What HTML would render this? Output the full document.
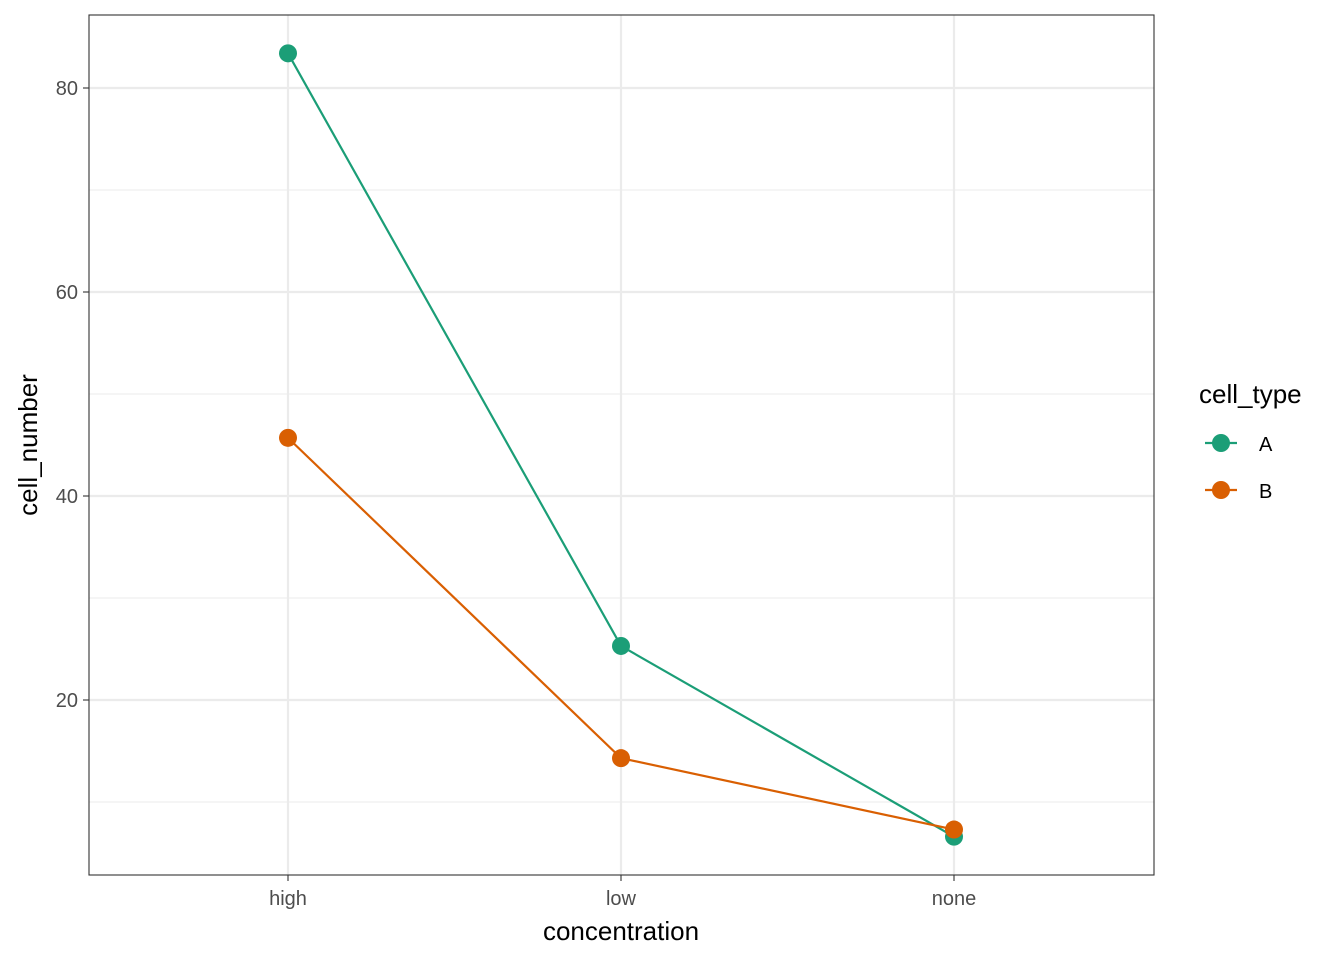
<!DOCTYPE html>
<html><head><meta charset="utf-8"><style>
body{margin:0;background:#fff}
svg{display:block;font-family:"Liberation Sans",Arial,sans-serif}
</style></head><body>
<svg id="chart" width="1344" height="960">
<rect x="0" y="0" width="1344" height="960" fill="#fff"/>
<g id="grid"></g>
<g id="series"></g>
<rect x="89" y="15" width="1065" height="860" fill="none" stroke="#333" stroke-width="1.1"/>
<g id="axes"></g>
<text x="621" y="940" text-anchor="middle" font-size="26" fill="#000">concentration</text>
<text transform="translate(37,445) rotate(-90)" text-anchor="middle" font-size="26" fill="#000">cell_number</text>
<g id="legend">
<text x="1199" y="403" font-size="26" fill="#000">cell_type</text>
</g>
</svg>
<script>
const categories=["high","low","none"];
const seriesNames=["A","B"];
const valuesA=[83.4,25.3,6.6];
const valuesB=[45.7,14.3,7.3];
const yTicks=[20,40,60,80];
const yMinor=[10,30,50,70];
const colors=["#1b9e77","#d95f02"];
const NS="http://www.w3.org/2000/svg";
function xs(i){return 288+i*333;}
function ys(v){return 700-(v-20)*10.2;}
function mk(t,a,p){const e=document.createElementNS(NS,t);for(const k in a)e.setAttribute(k,a[k]);p.appendChild(e);return e;}
const grid=document.getElementById('grid'),axes=document.getElementById('axes'),ser=document.getElementById('series'),leg=document.getElementById('legend');
yMinor.forEach(v=>{const l=mk('line',{x1:89,x2:1154,y1:ys(v),y2:ys(v),stroke:'#ebebeb','stroke-width':1.1},grid);

});
yTicks.forEach(v=>{const l=mk('line',{x1:89,x2:1154,y1:ys(v),y2:ys(v),stroke:'#ebebeb','stroke-width':2.2},grid);


const tk=mk('line',{x1:83,x2:89,y1:ys(v),y2:ys(v),stroke:'#333','stroke-width':1.1},axes);


const t=mk('text',{x:78,y:ys(v)+7,'text-anchor':'end','font-size':20,fill:'#4d4d4d'},axes);t.textContent=v;

});
categories.forEach((c,i)=>{const l=mk('line',{x1:xs(i),x2:xs(i),y1:15,y2:875,stroke:'#ebebeb','stroke-width':2.2},grid);


const tk=mk('line',{x1:xs(i),x2:xs(i),y1:875,y2:881,stroke:'#333','stroke-width':1.1},axes);


const t=mk('text',{x:xs(i),y:905,'text-anchor':'middle','font-size':20,fill:'#4d4d4d'},axes);t.textContent=c;

});
[valuesA,valuesB].forEach((vals,s)=>{
const pl=mk('polyline',{points:vals.map((v,i)=>xs(i)+','+ys(v)).join(' '),fill:'none',stroke:colors[s],'stroke-width':2.2},ser);


vals.forEach((v,i)=>{const c=mk('circle',{cx:xs(i),cy:ys(v),r:9,fill:colors[s]},ser);

});
const ly=443+s*47;
const kl=mk('line',{x1:1205,x2:1237,y1:ly,y2:ly,stroke:colors[s],'stroke-width':2.2},leg);


const kc=mk('circle',{cx:1221,cy:ly,r:9,fill:colors[s]},leg);


const kt=mk('text',{x:1259,y:ly+8,'font-size':20,fill:'#000'},leg);kt.textContent=seriesNames[s];


});
</script>
</body></html>
